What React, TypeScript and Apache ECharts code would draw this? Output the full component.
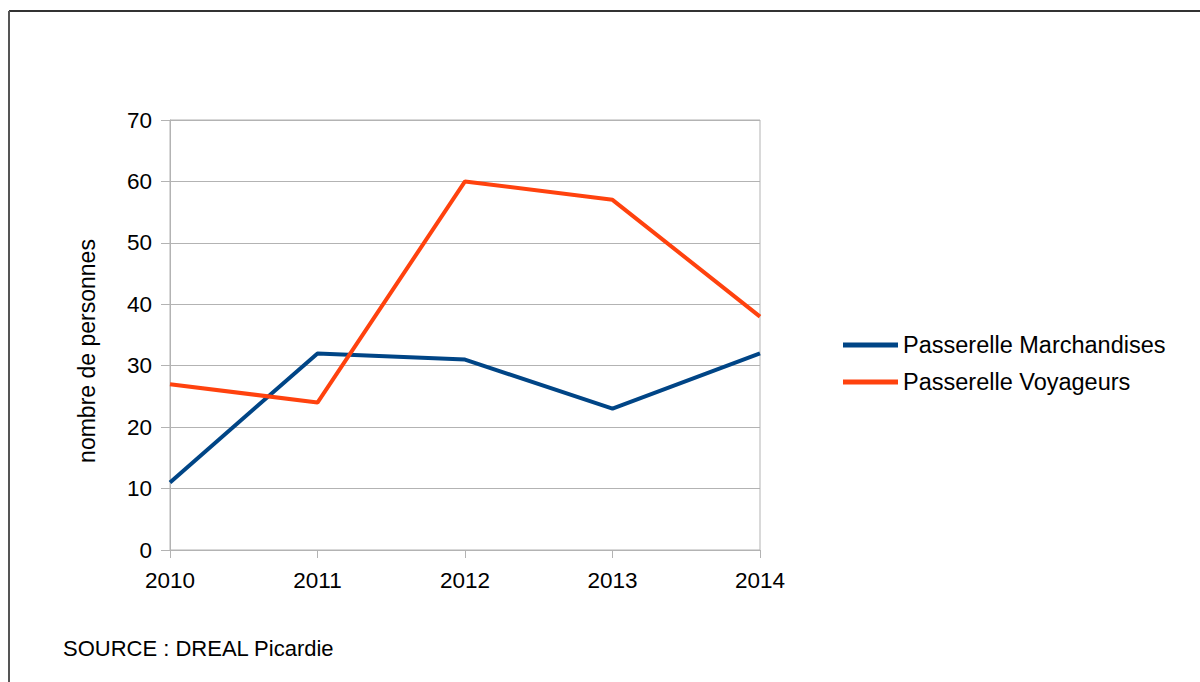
import React, { useEffect, useRef } from "react";
import * as echarts from "echarts";

const years = ["2010", "2011", "2012", "2013", "2014"];
const marchandises = [11, 32, 31, 23, 32];
const voyageurs = [27, 24, 60, 57, 38];
const seriesNames = ["Passerelle Marchandises", "Passerelle Voyageurs"];
const yTicks = [0, 10, 20, 30, 40, 50, 60, 70];
const yAxisTitle = "nombre de personnes";
const sourceNote = "SOURCE : DREAL Picardie";

const FONT = "'Liberation Sans', Arial, sans-serif";
const GRID_GRAY = "#b3b3b3";

export default function App() {
  const ref = useRef<HTMLDivElement>(null);

  useEffect(() => {
    document.body.style.margin = "0";
    if (!ref.current) return;
    const chart = echarts.init(ref.current, null, { renderer: "svg" });
    chart.setOption({
      animation: false,
      backgroundColor: "#ffffff",
      textStyle: { fontFamily: FONT, color: "#000" },
      grid: {
        left: 170,
        top: 120,
        width: 590,
        height: 430,
        show: true,
        borderColor: GRID_GRAY,
        borderWidth: 1,
        containLabel: false,
      },
      legend: {
        orient: "vertical",
        left: 843,
        top: 333,
        padding: 0,
        itemWidth: 55,
        itemHeight: 5,
        itemGap: 13,
        icon: "rect",
        data: seriesNames,
        textStyle: { fontFamily: FONT, fontSize: 23.5, color: "#000" },
      },
      xAxis: {
        type: "category",
        data: years,
        boundaryGap: false,
        axisLine: { lineStyle: { color: GRID_GRAY, width: 1 } },
        axisTick: { show: true, length: 8, lineStyle: { color: GRID_GRAY } },
        axisLabel: { fontFamily: FONT, fontSize: 22.5, color: "#000", margin: 19 },
        splitLine: { show: false },
      },
      yAxis: {
        type: "value",
        min: yTicks[0],
        max: yTicks[yTicks.length - 1],
        interval: 10,
        axisLine: { show: true, lineStyle: { color: GRID_GRAY, width: 1 } },
        axisTick: { show: true, length: 9, lineStyle: { color: GRID_GRAY } },
        axisLabel: { fontFamily: FONT, fontSize: 22.5, color: "#000", margin: 18 },
        splitLine: { show: true, lineStyle: { color: GRID_GRAY, width: 1 } },
      },
      series: [
        {
          name: seriesNames[0],
          type: "line",
          data: marchandises,
          color: "#004586",
          lineStyle: { width: 4, color: "#004586" },
          showSymbol: false,
          symbol: "none",
        },
        {
          name: seriesNames[1],
          type: "line",
          data: voyageurs,
          color: "#ff420e",
          lineStyle: { width: 4, color: "#ff420e" },
          showSymbol: false,
          symbol: "none",
        },
      ],
      graphic: [
        {
          type: "line",
          shape: { x1: 9, y1: 11, x2: 1200, y2: 11 },
          style: { stroke: "#333", lineWidth: 2 },
        },
        {
          type: "line",
          shape: { x1: 9, y1: 11, x2: 9, y2: 682 },
          style: { stroke: "#555", lineWidth: 2 },
        },
        {
          type: "text",
          x: 87,
          y: 351,
          rotation: Math.PI / 2,
          style: {
            text: yAxisTitle,
            fontFamily: FONT,
            fontSize: 23,
            fill: "#000",
            align: "center",
            verticalAlign: "middle",
          },
        },
        {
          type: "text",
          left: 63,
          top: 637,
          style: {
            text: sourceNote,
            fontFamily: FONT,
            fontSize: 22,
            fill: "#000",
          },
        },
      ],
    });
    return () => chart.dispose();
  }, []);

  return <div ref={ref} style={{ width: 1200, height: 682 }} />;
}
